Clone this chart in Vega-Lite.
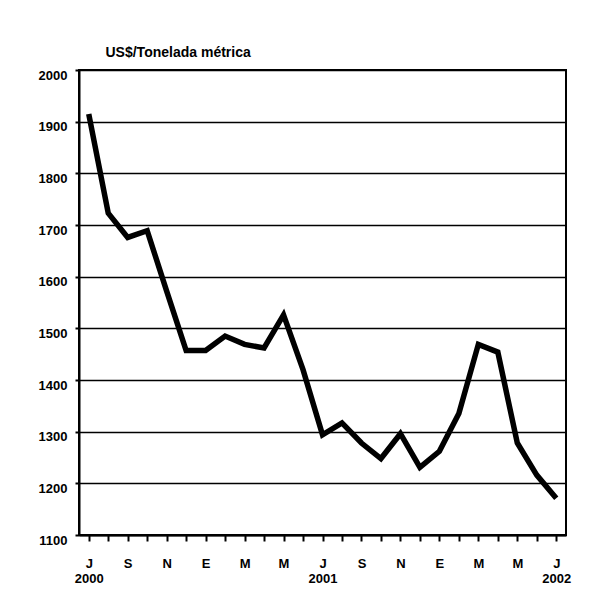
{
  "$schema": "https://vega.github.io/schema/vega-lite/v6.json",
  "autosize": "none",
  "width": 487,
  "height": 465,
  "padding": {"left": 79, "top": 70, "right": 39, "bottom": 71},
  "background": "white",
  "config": {
    "font": "Liberation Sans, Arial, sans-serif",
    "view": {"stroke": "black", "strokeWidth": 2},
    "axis": {
      "labelFont": "Liberation Sans, Arial, sans-serif",
      "labelFontWeight": "bold",
      "labelFontSize": 13,
      "labelColor": "black",
      "domainColor": "black",
      "domainWidth": 2,
      "tickColor": "black",
      "tickWidth": 2,
      "tickSize": 5
    }
  },
  "data": {
    "values": [
      {"fecha": "2000-07", "precio": 1915},
      {"fecha": "2000-08", "precio": 1723},
      {"fecha": "2000-09", "precio": 1676},
      {"fecha": "2000-10", "precio": 1689},
      {"fecha": "2000-11", "precio": 1572},
      {"fecha": "2000-12", "precio": 1457},
      {"fecha": "2001-01", "precio": 1457},
      {"fecha": "2001-02", "precio": 1485},
      {"fecha": "2001-03", "precio": 1469},
      {"fecha": "2001-04", "precio": 1462},
      {"fecha": "2001-05", "precio": 1526},
      {"fecha": "2001-06", "precio": 1420},
      {"fecha": "2001-07", "precio": 1294},
      {"fecha": "2001-08", "precio": 1317},
      {"fecha": "2001-09", "precio": 1278},
      {"fecha": "2001-10", "precio": 1248},
      {"fecha": "2001-11", "precio": 1296},
      {"fecha": "2001-12", "precio": 1231},
      {"fecha": "2002-01", "precio": 1262},
      {"fecha": "2002-02", "precio": 1335},
      {"fecha": "2002-03", "precio": 1469},
      {"fecha": "2002-04", "precio": 1454},
      {"fecha": "2002-05", "precio": 1278},
      {"fecha": "2002-06", "precio": 1216},
      {"fecha": "2002-07", "precio": 1171}
    ]
  },
  "mark": {"type": "line", "color": "black", "strokeWidth": 5.5},
  "encoding": {
    "x": {
      "field": "fecha",
      "type": "ordinal",
      "sort": null,
      "scale": {"paddingInner": 0, "paddingOuter": 0},
      "axis": {
        "title": null,
        "labelAngle": 0,
        "tickSize": 6,
        "labelPadding": 16,
        "labelExpr": "toNumber(slice(datum.value,5)) % 2 == 0 ? '' : (toNumber(slice(datum.value,5)) == 7 ? ['J', slice(datum.value,0,4)] : ['E','','M','','M','','J','','S','','N'][toNumber(slice(datum.value,5)) - 1])"
      }
    },
    "y": {
      "field": "precio",
      "type": "quantitative",
      "scale": {"domain": [1100, 2000], "nice": false, "zero": false},
      "axis": {
        "values": [1100, 1200, 1300, 1400, 1500, 1600, 1700, 1800, 1900, 2000],
        "format": "d",
        "grid": true,
        "gridColor": "black",
        "gridWidth": 1.5,
        "gridOpacity": 1,
        "tickSize": 4,
        "labelPadding": 8,
        "labelOffset": 5,
        "title": "US$/Tonelada métrica",
        "titleFont": "Liberation Sans, Arial, sans-serif",
        "titleFontWeight": "bold",
        "titleFontSize": 14,
        "titleColor": "black",
        "titleAngle": 0,
        "titleAlign": "left",
        "titleBaseline": "alphabetic",
        "titleX": 26,
        "titleY": -14
      }
    }
  }
}
